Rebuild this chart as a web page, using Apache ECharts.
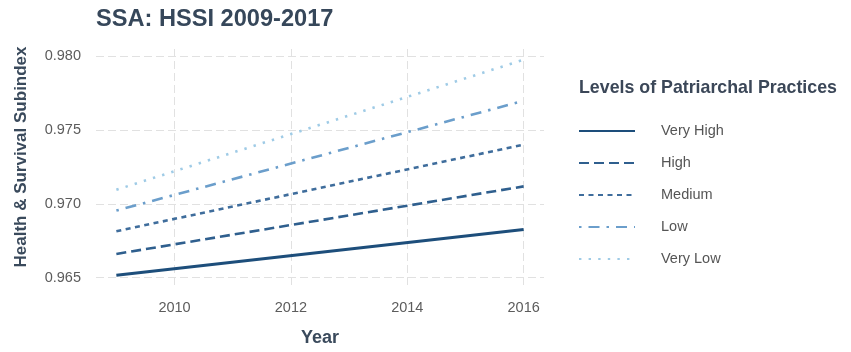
<!DOCTYPE html>
<html>
<head>
<meta charset="utf-8">
<script src="https://cdn.jsdelivr.net/npm/echarts@6/dist/echarts.min.js"></script>
<style>
  html, body { margin: 0; padding: 0; background: #ffffff; }
  #chart { width: 851px; height: 352px; }
</style>
</head>
<body>
<div id="chart"></div>
<script>
// Fitted trend of the Health & Survival Subindex, 2009 to 2016
const years = [2009, 2016];
const veryHigh = [0.96517, 0.96827];
const high = [0.96661, 0.97119];
const medium = [0.96815, 0.97402];
const low = [0.96955, 0.97699];
const veryLow = [0.97096, 0.97977];

const levelNames = ['Very High', 'High', 'Medium', 'Low', 'Very Low'];
const xTicks = [2010, 2012, 2014, 2016];
const yTicks = ['0.965', '0.970', '0.975', '0.980'];

const FONT = "'Liberation Sans', Arial, sans-serif";

const styles = [
  { color: '#1d4e7b', width: 3, type: 'solid' },
  { color: '#2f5f8e', width: 2.6, type: [10, 5] },
  { color: '#3f6d9c', width: 2.6, type: [5, 4.5] },
  { color: '#6b9ecb', width: 2.6, type: [2.5, 7, 11, 7] },
  { color: '#9fcbe6', width: 2.6, type: [2.4, 7.2] }
];

const valueSets = [veryHigh, high, medium, low, veryLow];

const series = levelNames.map((name, i) => ({
  name: name,
  type: 'line',
  symbol: 'none',
  silent: true,
  animation: false,
  data: years.map((yr, k) => [yr, valueSets[i][k]]),
  lineStyle: {
    color: styles[i].color,
    width: styles[i].width,
    type: styles[i].type,
    cap: 'butt'
  },
  itemStyle: { color: styles[i].color }
}));

const chart = echarts.init(document.getElementById('chart'), null, { renderer: 'canvas' });

chart.setOption({
  backgroundColor: '#ffffff',
  animation: false,
  textStyle: { fontFamily: FONT },
  title: {
    text: 'SSA: HSSI 2009-2017',
    left: 96,
    top: 6,
    padding: 0,
    textStyle: {
      fontFamily: FONT,
      fontSize: 23.6,
      fontWeight: 'bold',
      color: '#36475a',
      lineHeight: 27
    }
  },
  grid: { left: 96, right: 307, top: 49, bottom: 61, containLabel: false },
  xAxis: {
    type: 'value',
    min: 2008.65,
    max: 2016.35,
    splitNumber: 4,
    name: 'Year',
    nameLocation: 'middle',
    nameGap: 43,
    nameTextStyle: { fontFamily: FONT, fontSize: 18, fontWeight: 'bold', color: '#3a4a5c' },
    axisLine: { show: false },
    axisTick: { show: false },
    axisLabel: {
      margin: 14,
      fontFamily: FONT,
      fontSize: 14.5,
      color: '#5c5c5c',
      formatter: v => (xTicks.indexOf(Math.round(v * 1000) / 1000) >= 0 ? String(Math.round(v)) : ''),
      showMinLabel: true,
      showMaxLabel: true
    },
    splitLine: {
      show: true,
      showMinLine: false,
      showMaxLine: false,
      lineStyle: { color: '#e1e1e1', width: 1, type: [8, 4] }
    }
  },
  yAxis: {
    type: 'value',
    min: 0.96444,
    max: 0.9805,
    splitNumber: 3,
    axisLine: { show: false },
    axisTick: { show: false },
    axisLabel: {
      margin: 15,
      fontFamily: FONT,
      fontSize: 14.5,
      color: '#5c5c5c',
      formatter: v => {
        const s = v.toFixed(3);
        return (yTicks.indexOf(s) >= 0 && Math.abs(v - parseFloat(s)) < 1e-7) ? s : '';
      }
    },
    splitLine: {
      show: true,
      showMinLine: false,
      showMaxLine: false,
      lineStyle: { color: '#e1e1e1', width: 1, type: [8, 4] }
    }
  },
  legend: {
    orient: 'vertical',
    left: 578,
    top: 123,
    padding: 0,
    itemWidth: 56,
    itemHeight: 16,
    itemGap: 16,
    selectedMode: false,
    data: levelNames,
    // keys show only the line pattern, no point marker
    itemStyle: { opacity: 0 },
    textStyle: {
      fontFamily: FONT,
      fontSize: 14.5,
      color: '#555555',
      lineHeight: 16,
      padding: [0, 0, 0, 21]
    }
  },
  graphic: [
    {
      type: 'text',
      x: 21,
      y: 157,
      rotation: Math.PI / 2,
      style: {
        text: 'Health & Survival Subindex',
        fontFamily: FONT,
        fontSize: 17,
        fontWeight: 'bold',
        fill: '#3a4a5c',
        align: 'center',
        verticalAlign: 'middle'
      }
    },
    {
      type: 'text',
      x: 579,
      y: 88,
      style: {
        text: 'Levels of Patriarchal Practices',
        fontFamily: FONT,
        fontSize: 17.8,
        fontWeight: 'bold',
        fill: '#3b4758',
        align: 'left',
        verticalAlign: 'middle'
      }
    }
  ],
  series: series
});
</script>
</body>
</html>
